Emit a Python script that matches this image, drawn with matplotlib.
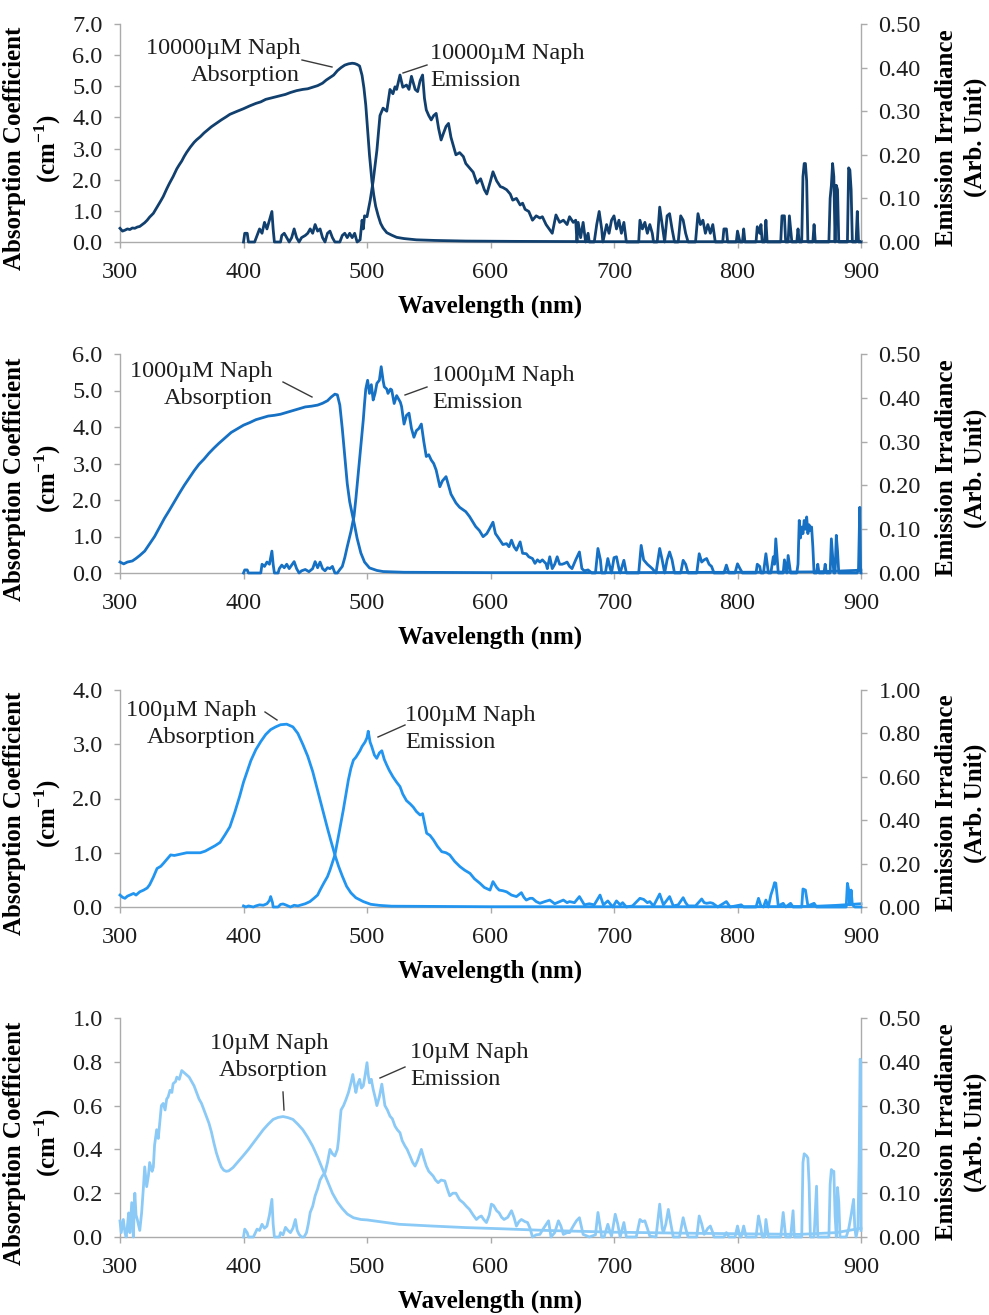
import matplotlib.pyplot as plt
from matplotlib.lines import Line2D
from matplotlib.ticker import FormatStrFormatter

plt.rcParams['font.family'] = ['Liberation Serif', 'DejaVu Serif']
plt.rcParams['mathtext.fontset'] = 'custom'
plt.rcParams['mathtext.rm'] = 'Liberation Serif'
plt.rcParams['mathtext.bf'] = 'Liberation Serif:bold'

# ---- data (wavelength nm, value) ----
# 10000 uM Naph
abs_10000 = [(300, 0.44), (302, 0.35), (304, 0.38), (306, 0.42), (308, 0.40), (310, 0.45), (312, 0.44),
             (314, 0.48), (316, 0.50), (318, 0.56), (320, 0.62), (322, 0.70), (324, 0.80), (327, 0.92),
             (330, 1.12), (333, 1.32), (335, 1.46), (338, 1.72), (340, 1.88), (343, 2.10), (346, 2.35),
             (348, 2.48), (350, 2.60), (352, 2.75), (354, 2.88), (357, 3.05), (360, 3.20), (362, 3.28),
             (365, 3.38), (368, 3.50), (371, 3.60), (374, 3.70), (378, 3.81), (382, 3.92), (386, 4.02),
             (389, 4.10), (392, 4.15), (395, 4.20), (400, 4.28), (405, 4.37), (410, 4.45), (414, 4.50),
             (418, 4.58), (422, 4.62), (426, 4.66), (430, 4.70), (434, 4.74), (438, 4.80), (443, 4.86),
             (448, 4.90), (452, 4.92), (456, 4.97), (460, 5.02), (464, 5.10), (467, 5.20), (470, 5.28),
             (473, 5.36), (476, 5.50), (479, 5.60), (482, 5.68), (485, 5.72), (488, 5.74), (490, 5.73),
             (492, 5.70), (494, 5.65), (496, 5.35), (497.5, 4.95), (499, 4.40), (500.5, 3.60), (502, 2.80),
             (504, 1.95), (505.5, 1.50), (507, 1.15), (509, 0.85), (511, 0.60), (513, 0.45), (516, 0.30),
             (520, 0.22), (524, 0.15), (530, 0.11), (540, 0.07), (555, 0.05), (580, 0.03), (620, 0.02),
             (700, 0.01), (800, 0.01), (900, 0.02)]
em_10000 = [(400, 0.0), (401, 0.02), (403, 0.02), (404, 0.0), (409, 0.0), (411, 0.015), (413, 0.03),
            (415, 0.02), (417, 0.045), (419, 0.03), (421, 0.05), (423, 0.07), (424, 0.03), (425, 0.0),
            (430, 0.0), (431, 0.015), (433, 0.02), (435, 0.01), (437, 0.0), (439, 0.01), (441, 0.03),
            (443, 0.01), (445, 0.0), (447, 0.01), (450, 0.015), (452, 0.02), (454, 0.03), (456, 0.02),
            (458, 0.04), (460, 0.025), (462, 0.03), (464, 0.01), (466, 0.0), (468, 0.02), (470, 0.025),
            (472, 0.01), (474, 0.0), (478, 0.0), (480, 0.015), (482, 0.02), (484, 0.01), (486, 0.02),
            (488, 0.01), (490, 0.02), (492, 0.0), (494.4, 0.005), (496, 0.05), (497, 0.03), (498, 0.06),
            (500, 0.058), (502.6, 0.096), (505, 0.14), (508, 0.21), (510.5, 0.29), (513, 0.307),
            (516, 0.30), (518.6, 0.35), (521, 0.34), (522.7, 0.356), (524, 0.35), (526.7, 0.383),
            (529, 0.355), (532, 0.36), (534, 0.35), (536, 0.38), (539, 0.35), (541, 0.345), (543, 0.37),
            (545, 0.383), (546.5, 0.33), (548, 0.303), (550, 0.29), (552, 0.28), (554, 0.29), (556, 0.295),
            (558, 0.26), (560, 0.234), (562, 0.25), (564, 0.265), (566, 0.272), (568, 0.24), (570, 0.22),
            (572, 0.20), (575, 0.205), (578, 0.196), (580, 0.18), (583, 0.17), (586, 0.16), (589, 0.135),
            (592, 0.145), (595, 0.12), (597, 0.11), (600, 0.14), (602, 0.161), (605, 0.14), (608, 0.127),
            (610, 0.125), (613, 0.12), (616, 0.11), (618, 0.096), (621, 0.10), (624, 0.085), (626, 0.089),
            (628, 0.075), (631, 0.07), (634, 0.05), (637, 0.06), (640, 0.055), (642, 0.058), (645, 0.04),
            (648, 0.028), (650, 0.02), (653, 0.062), (656, 0.045), (659, 0.05), (662, 0.04), (664, 0.058),
            (667, 0.045), (669, 0.05), (670, 0.0), (671, 0.045), (673, 0.01), (675, 0.045), (677, 0.0),
            (679, 0.02), (680, 0.0), (684, 0.0), (686, 0.04), (688, 0.07), (690, 0.03), (691, 0.0),
            (694, 0.04), (696, 0.02), (698, 0.05), (700, 0.06), (702, 0.03), (704, 0.05), (706, 0.02),
            (708, 0.045), (710, 0.0), (720, 0.0), (721, 0.05), (723, 0.03), (725, 0.045), (727, 0.02),
            (729, 0.04), (731, 0.02), (732, 0.0), (735, 0.0), (737, 0.08), (739, 0.04), (741, 0.0),
            (743, 0.06), (745, 0.065), (747, 0.03), (749, 0.0), (752, 0.0), (754, 0.06), (756, 0.05),
            (758, 0.02), (760, 0.0), (766, 0.0), (768, 0.065), (770, 0.04), (772, 0.05), (774, 0.02),
            (776, 0.04), (778, 0.02), (780, 0.04), (782, 0.0), (788, 0.0), (789, 0.03), (791, 0.03),
            (792, 0.0), (799, 0.0), (800, 0.025), (802, 0.0), (804, 0.0), (805, 0.03), (806, 0.0),
            (815, 0.0), (816, 0.035), (818, 0.02), (819, 0.04), (820, 0.0), (822, 0.0), (823, 0.05),
            (824, 0.0), (835, 0.0), (836, 0.06), (838, 0.06), (839, 0.0), (841, 0.0), (842, 0.06),
            (844, 0.0), (848, 0.0), (849, 0.03), (850, 0.0), (852, 0.0), (853, 0.15), (854, 0.18),
            (855, 0.18), (856, 0.14), (857, 0.0), (861, 0.0), (862, 0.04), (863, 0.0), (874, 0.0),
            (875, 0.10), (876, 0.13), (877, 0.18), (878, 0.15), (879, 0.0), (880, 0.13), (881, 0.12),
            (882, 0.0), (889, 0.0), (890, 0.17), (891, 0.165), (892, 0.12), (893, 0.0), (896, 0.0),
            (897, 0.07), (898, 0.0), (900, 0.0)]

# 1000 uM Naph
abs_1000 = [(300, 0.30), (303, 0.25), (306, 0.30), (310, 0.33), (313, 0.40), (316, 0.48), (320, 0.60),
            (324, 0.80), (328, 1.00), (332, 1.25), (336, 1.50), (340, 1.72), (344, 1.95), (348, 2.18),
            (352, 2.40), (356, 2.60), (360, 2.80), (364, 2.98), (368, 3.12), (372, 3.28), (376, 3.42),
            (380, 3.55), (385, 3.70), (390, 3.85), (395, 3.95), (400, 4.05), (405, 4.12), (410, 4.20),
            (415, 4.25), (420, 4.30), (425, 4.32), (430, 4.35), (435, 4.40), (440, 4.45), (445, 4.50),
            (450, 4.55), (455, 4.57), (460, 4.60), (464, 4.65), (468, 4.72), (471, 4.82), (474, 4.90),
            (476, 4.88), (478, 4.60), (480, 3.95), (482, 3.20), (484, 2.45), (486, 1.95), (488, 1.62),
            (490, 1.30), (492, 0.95), (495, 0.55), (498, 0.30), (502, 0.14), (508, 0.07), (513, 0.04),
            (530, 0.02), (600, 0.01), (700, 0.01), (800, 0.02), (860, 0.03), (880, 0.05), (895, 0.07),
            (900, 0.08)]
em_1000 = [(400, 0.0), (401, 0.007), (403, 0.007), (404, 0.0), (414, 0.0), (415, 0.02), (417, 0.015),
           (419, 0.025), (421, 0.02), (423, 0.05), (424, 0.02), (425, 0.0), (428, 0.0), (429, 0.01),
           (431, 0.018), (433, 0.012), (435, 0.02), (437, 0.01), (439, 0.018), (441, 0.026), (443, 0.01),
           (445, 0.0), (447, 0.005), (450, 0.008), (453, 0.003), (456, 0.01), (458, 0.026), (460, 0.012),
           (462, 0.025), (464, 0.01), (466, 0.005), (468, 0.012), (470, 0.01), (472, 0.015), (474, 0.0),
           (476, 0.0), (478, 0.008), (480, 0.015), (482, 0.035), (484, 0.06), (487, 0.095), (489.5, 0.13),
           (491, 0.17), (493, 0.23), (495, 0.29), (497, 0.35), (498, 0.387), (499, 0.42), (500.5, 0.44),
           (502, 0.41), (503.5, 0.43), (505, 0.395), (506.5, 0.41), (508, 0.433), (510, 0.44),
           (511.5, 0.471), (513, 0.44), (514, 0.425), (516, 0.42), (517, 0.41), (519, 0.42), (520, 0.418),
           (522, 0.387), (524, 0.405), (525, 0.40), (527, 0.39), (528, 0.38), (530, 0.34), (532, 0.36),
           (534, 0.365), (536, 0.33), (538, 0.31), (540, 0.325), (542, 0.33), (544, 0.34), (546, 0.30),
           (548, 0.266), (550, 0.27), (552, 0.258), (554, 0.25), (556, 0.235), (558, 0.21), (559, 0.197),
           (561, 0.21), (564, 0.22), (566, 0.20), (568, 0.18), (570, 0.17), (572, 0.16), (575, 0.15),
           (578, 0.144), (580, 0.14), (583, 0.129), (586, 0.115), (588, 0.106), (591, 0.097), (594, 0.083),
           (597, 0.09), (599, 0.10), (602, 0.116), (604, 0.09), (606, 0.082), (610, 0.065), (613, 0.067),
           (615, 0.06), (617, 0.075), (619, 0.06), (621, 0.052), (624, 0.071), (626, 0.045), (629, 0.044),
           (631, 0.037), (634, 0.033), (636, 0.022), (638, 0.03), (640, 0.025), (642, 0.03), (645, 0.021),
           (646, 0.01), (648, 0.037), (650, 0.01), (652, 0.02), (654, 0.037), (656, 0.02), (658, 0.02),
           (660, 0.022), (662, 0.025), (664, 0.015), (666, 0.01), (669, 0.03), (672, 0.048), (674, 0.01),
           (676, 0.005), (679, 0.007), (682, 0.0), (685, 0.0), (687, 0.056), (689, 0.03), (690, 0.0),
           (693, 0.0), (695, 0.033), (697, 0.01), (698, 0.0), (700, 0.035), (702, 0.037), (704, 0.01),
           (705, 0.0), (708, 0.029), (710, 0.0), (720, 0.0), (722, 0.063), (724, 0.03), (727, 0.02),
           (729, 0.015), (731, 0.01), (734, 0.0), (737, 0.056), (739, 0.03), (741, 0.0), (743, 0.03),
           (745, 0.048), (747, 0.03), (749, 0.0), (754, 0.0), (756, 0.029), (758, 0.02), (760, 0.0),
           (767, 0.0), (769, 0.044), (771, 0.025), (773, 0.03), (775, 0.033), (777, 0.02), (779, 0.015),
           (781, 0.0), (789, 0.0), (791, 0.018), (793, 0.0), (798, 0.0), (800, 0.021), (802, 0.01),
           (804, 0.0), (815, 0.0), (816, 0.02), (818, 0.015), (819, 0.0), (821, 0.0), (823, 0.044),
           (825, 0.0), (827, 0.0), (829, 0.037), (830, 0.02), (831, 0.078), (833, 0.0), (837, 0.0),
           (838, 0.03), (840, 0.0), (841, 0.04), (843, 0.0), (848, 0.0), (849, 0.02), (850, 0.12),
           (851, 0.08), (852, 0.105), (853, 0.09), (854, 0.12), (855, 0.10), (856, 0.128), (857, 0.09),
           (858, 0.11), (859, 0.097), (860, 0.105), (861, 0.06), (862, 0.0), (864, 0.0), (865, 0.02),
           (866, 0.0), (870, 0.0), (871, 0.02), (872, 0.0), (875, 0.0), (876, 0.078), (877, 0.04),
           (878, 0.0), (879, 0.0), (880, 0.086), (881, 0.05), (882, 0.0), (897, 0.0), (898, 0.01),
           (899, 0.15), (899.7, 0.0), (900, 0.0)]

# 100 uM Naph
abs_100 = [(300, 0.22), (302, 0.18), (304, 0.16), (306, 0.20), (308, 0.22), (311, 0.25), (313, 0.22),
           (316, 0.28), (319, 0.31), (322, 0.35), (324, 0.41), (327, 0.55), (330, 0.71), (333, 0.75),
           (335, 0.80), (338, 0.88), (341, 0.96), (344, 0.95), (346, 0.96), (350, 0.98), (354, 1.00),
           (358, 1.00), (362, 1.00), (365, 1.00), (369, 1.03), (373, 1.08), (377, 1.13), (381, 1.19),
           (385, 1.33), (389, 1.48), (393, 1.75), (397, 2.05), (400, 2.30), (403, 2.50), (406, 2.70),
           (410, 2.90), (414, 3.05), (418, 3.18), (422, 3.27), (426, 3.32), (430, 3.36), (435, 3.37),
           (440, 3.32), (444, 3.20), (448, 3.00), (452, 2.78), (456, 2.50), (460, 2.15), (464, 1.80),
           (468, 1.45), (471, 1.20), (474, 0.96), (477, 0.75), (480, 0.57), (483.5, 0.38), (487, 0.26),
           (491, 0.17), (497, 0.10), (503, 0.05), (510, 0.03), (520, 0.015), (600, 0.005), (800, 0.005),
           (860, 0.01), (880, 0.03), (900, 0.06)]
em_100 = [(400, 0.005), (402, 0.0), (404, 0.005), (408, 0.0), (410, 0.005), (413, 0.01), (416, 0.008),
          (419, 0.015), (421, 0.03), (422, 0.048), (423.5, 0.02), (424, 0.0), (428, 0.0), (430, 0.012),
          (432, 0.014), (434, 0.01), (436, 0.005), (438, 0.0), (441, 0.008), (444, 0.005), (447, 0.01),
          (450, 0.015), (453.8, 0.025), (457, 0.04), (460, 0.055), (462, 0.078), (465, 0.11), (468, 0.14),
          (470, 0.17), (474, 0.24), (477, 0.33), (480.8, 0.447), (483, 0.52), (484.9, 0.585), (487, 0.64),
          (489, 0.677), (491, 0.69), (494.3, 0.72), (496, 0.74), (498.4, 0.76), (500, 0.78), (501, 0.81),
          (502.5, 0.76), (503.8, 0.74), (506, 0.70), (507.9, 0.685), (510, 0.71), (512, 0.72), (514, 0.68),
          (516, 0.654), (518, 0.63), (521, 0.60), (524, 0.575), (526.7, 0.555), (529, 0.52), (532, 0.49),
          (535, 0.475), (537.5, 0.46), (540, 0.44), (543, 0.424), (545, 0.43), (548.3, 0.34), (551, 0.33),
          (553.7, 0.31), (557, 0.28), (560.5, 0.255), (564, 0.25), (567, 0.24), (571, 0.21),
          (575.3, 0.186), (579, 0.17), (583.4, 0.155), (587, 0.13), (591.5, 0.109), (595, 0.09),
          (599.6, 0.078), (602, 0.117), (605, 0.09), (607, 0.078), (610, 0.075), (613, 0.07),
          (617, 0.055), (621, 0.048), (625, 0.066), (627, 0.045), (629, 0.032), (632, 0.04), (634, 0.04),
          (637, 0.025), (640, 0.017), (644, 0.025), (648, 0.032), (652, 0.015), (656, 0.025),
          (659, 0.032), (662, 0.02), (664, 0.025), (668, 0.02), (672, 0.048), (676, 0.01), (680, 0.015),
          (684, 0.01), (688.7, 0.055), (691.4, 0.01), (695, 0.028), (699, 0.0), (702, 0.028), (705, 0.01),
          (707, 0.02), (710, 0.0), (715, 0.005), (721, 0.04), (724, 0.035), (727, 0.02), (729, 0.025),
          (732, 0.005), (737, 0.06), (740, 0.01), (742, 0.025), (745, 0.048), (748, 0.005), (752, 0.01),
          (756, 0.043), (758, 0.02), (760, 0.005), (766, 0.005), (771, 0.037), (773, 0.02), (775, 0.017),
          (778, 0.02), (780, 0.017), (784, 0.0), (791, 0.025), (794, 0.0), (803, 0.01), (805, 0.0),
          (815, 0.0), (817, 0.04), (819, 0.005), (821, 0.0), (823, 0.032), (825, 0.0), (827, 0.055),
          (829, 0.09), (830, 0.112), (831, 0.11), (833, 0.005), (837, 0.017), (839, 0.0), (843, 0.017),
          (845, 0.0), (852, 0.0), (853, 0.083), (855, 0.078), (857, 0.005), (862, 0.017), (864, 0.0),
          (888, 0.0), (889, 0.109), (890, 0.08), (891, 0.01), (892, 0.078), (893, 0.01), (895, 0.0),
          (900, 0.0)]

# 10 uM Naph
abs_10 = [(300, 0.073), (301, 0.02), (302.7, 0.08), (304, 0.02), (305, 0.0), (306, 0.05), (307, 0.11),
          (308, 0.02), (309.5, 0.157), (310.8, 0.0), (312, 0.20), (313, 0.10), (314, 0.08), (316, 0.03),
          (317.5, 0.11), (319, 0.23), (320, 0.32), (321.6, 0.23), (323, 0.28), (324, 0.34), (326, 0.30),
          (327, 0.32), (328, 0.42), (329.7, 0.49), (331, 0.45), (332, 0.51), (333.5, 0.60), (335, 0.61),
          (336.5, 0.58), (337.8, 0.63), (339, 0.64), (340.5, 0.67), (342, 0.66), (343, 0.70), (345, 0.71),
          (346, 0.73), (348, 0.72), (350, 0.76), (352, 0.75), (354, 0.74), (356, 0.73), (358, 0.71),
          (360, 0.69), (362, 0.66), (364, 0.63), (366, 0.61), (368, 0.58), (370, 0.55), (372, 0.52),
          (374, 0.48), (376, 0.43), (378, 0.385), (380, 0.35), (382, 0.32), (384, 0.305), (386, 0.30),
          (388, 0.302), (391.5, 0.317), (395, 0.34), (399.6, 0.37), (404, 0.40), (408, 0.43), (412, 0.46),
          (416, 0.49), (420, 0.515), (424, 0.537), (428, 0.546), (432, 0.55), (436, 0.545), (440, 0.537),
          (444, 0.515), (448, 0.49), (452, 0.455), (456, 0.415), (460, 0.365), (464, 0.31), (468, 0.255),
          (472, 0.20), (476, 0.16), (480, 0.13), (484, 0.105), (489, 0.088), (495, 0.08), (500, 0.078),
          (513, 0.068), (526, 0.058), (553, 0.05), (580, 0.043), (607, 0.038), (645, 0.03), (700, 0.022),
          (750, 0.018), (800, 0.015), (850, 0.012), (880, 0.02), (900, 0.04)]
em_10 = [(400, 0.0), (401, 0.018), (403, 0.01), (404, 0.0), (408, 0.0), (411, 0.018), (413, 0.015),
         (415, 0.029), (417, 0.02), (419, 0.025), (421, 0.05), (423, 0.086), (424, 0.03), (425, 0.0),
         (429, 0.0), (430, 0.01), (432, 0.005), (434, 0.022), (436, 0.015), (438, 0.01), (440, 0.02),
         (442, 0.04), (443.5, 0.015), (445, 0.006), (447, 0.0), (449, 0.0), (451, 0.01), (452.5, 0.03),
         (454, 0.056), (456, 0.07), (458, 0.094), (460, 0.11), (462, 0.13), (464, 0.14), (466, 0.147),
         (468, 0.17), (470, 0.20), (472, 0.19), (474, 0.185), (476, 0.20), (477, 0.223), (478, 0.26),
         (479, 0.29), (481, 0.30), (483, 0.314), (485, 0.33), (487, 0.352), (488.5, 0.371), (490, 0.345),
         (491, 0.33), (492.5, 0.35), (494, 0.36), (495.5, 0.34), (497, 0.345), (498.5, 0.37),
         (500, 0.398), (501, 0.37), (502, 0.352), (503.5, 0.36), (505, 0.337), (506.5, 0.32), (508, 0.30),
         (510, 0.32), (512, 0.349), (513, 0.33), (514.5, 0.30), (516.5, 0.29), (518.6, 0.276),
         (520.5, 0.27), (522.7, 0.253), (524.5, 0.245), (526.7, 0.238), (528.5, 0.22), (530.7, 0.208),
         (532.5, 0.20), (534.8, 0.185), (537, 0.17), (538.9, 0.162), (541, 0.175), (544, 0.20),
         (546, 0.18), (548, 0.162), (550, 0.15), (553.6, 0.139), (555.5, 0.13), (557.6, 0.124),
         (560, 0.13), (563, 0.128), (565, 0.11), (567, 0.094), (569.5, 0.10), (572, 0.10), (575, 0.085),
         (578, 0.078), (580.5, 0.07), (583, 0.063), (586, 0.05), (588.6, 0.04), (590.5, 0.045),
         (592.6, 0.048), (594.5, 0.04), (596.7, 0.033), (599, 0.05), (600.7, 0.075), (602.5, 0.072),
         (605, 0.06), (607, 0.055), (609, 0.045), (611, 0.04), (614, 0.045), (617, 0.06), (619, 0.045),
         (621, 0.025), (623, 0.035), (625, 0.04), (628, 0.035), (630, 0.033), (632, 0.02), (634, 0.0),
         (637, 0.005), (640, 0.006), (643, 0.02), (647, 0.037), (649, 0.0), (652, 0.01), (655, 0.037),
         (657, 0.025), (659, 0.006), (662, 0.01), (664, 0.01), (667, 0.025), (669.6, 0.037),
         (672, 0.044), (675, 0.006), (680, 0.0), (685, 0.005), (687, 0.056), (689, 0.02), (690, 0.0),
         (692, 0.0), (695, 0.029), (697, 0.01), (698, 0.002), (701, 0.052), (703, 0.03), (705, 0.0),
         (708, 0.033), (710, 0.0), (718, 0.0), (721, 0.04), (723, 0.035), (725, 0.037), (727, 0.02),
         (729, 0.002), (734, 0.0), (737, 0.075), (739, 0.02), (740, 0.01), (742, 0.03), (744, 0.063),
         (746, 0.03), (748, 0.0), (753, 0.0), (756, 0.044), (758, 0.02), (760, 0.0), (767, 0.0),
         (769, 0.048), (771, 0.03), (773, 0.006), (776, 0.02), (778, 0.025), (780, 0.01), (781, 0.0),
         (789, 0.0), (791, 0.01), (793, 0.0), (798, 0.0), (800, 0.025), (802, 0.0), (803, 0.0),
         (805, 0.025), (807, 0.0), (815, 0.0), (817, 0.048), (819, 0.02), (820, 0.0), (822, 0.0),
         (823, 0.04), (825, 0.0), (835, 0.0), (837, 0.056), (839, 0.0), (843, 0.0), (845, 0.06),
         (846, 0.0), (852, 0.0), (853, 0.17), (854, 0.19), (856, 0.185), (857, 0.18), (858, 0.12),
         (859, 0.0), (862, 0.0), (864, 0.116), (865, 0.0), (874, 0.0), (875, 0.12), (876, 0.154),
         (877, 0.15), (878, 0.15), (879, 0.05), (880, 0.0), (881, 0.113), (882, 0.08), (883, 0.0),
         (888, 0.0), (890, 0.018), (892, 0.05), (894, 0.086), (895, 0.02), (896, 0.0), (897.5, 0.02),
         (898.5, 0.177), (899.3, 0.406), (899.8, 0.40), (900, 0.015)]

concentrations = ['10000', '1000', '100', '10']
colors = ['#113F6E', '#1670C3', '#2295F0', '#8BCAF6']
left_ticks = [[0, 1, 2, 3, 4, 5, 6, 7], [0, 1, 2, 3, 4, 5, 6], [0, 1, 2, 3, 4],
              [0, 0.2, 0.4, 0.6, 0.8, 1.0]]
right_ticks = [[0, 0.1, 0.2, 0.3, 0.4, 0.5], [0, 0.1, 0.2, 0.3, 0.4, 0.5],
               [0, 0.2, 0.4, 0.6, 0.8, 1.0], [0, 0.1, 0.2, 0.3, 0.4, 0.5]]
wl_ticks = [300, 400, 500, 600, 700, 800, 900]

# ---- layout (pixels from top-left of the 989x1315 canvas) ----
W, H = 989, 1315
ax_left, ax_right = 120, 861
ax_tops = [24, 354, 690, 1018]
ax_bots = [242, 573, 907, 1237]
# label anchors: (abs text right x, center y, leader line), (em text left x, center y, leader line)
abs_notes = [(300, 62, ((302, 60), (332, 67))), (273, 385, ((283, 382), (312, 397))),
             (256, 724, ((265, 712), (277, 720))), (328, 1057, ((283, 1092), (284, 1110)))]
em_notes = [(430, 67, ((427, 65), (403, 73))), (432, 389, ((427, 387), (405, 395))),
            (405, 729, ((405, 725), (378, 737))), (410, 1066, ((405, 1067), (380, 1078)))]

spine_col = '#ABABAB'
txt_col = '#1E1E1E'
fs = 17.5
lab_fs = 18

fig = plt.figure(figsize=(W / 100, H / 100), dpi=100)


def fx(px):
    return px / W


def fy(py):
    return 1 - py / H


all_abs = [abs_10000, abs_1000, abs_100, abs_10]
all_em = [em_10000, em_1000, em_100, em_10]

for i in range(4):
    top, bot = ax_tops[i], ax_bots[i]
    ax = fig.add_axes([fx(ax_left), fy(bot), (ax_right - ax_left) / W, (bot - top) / H])
    ax2 = ax.twinx()
    c = colors[i]

    wl, val = zip(*all_abs[i])
    ax.plot(wl, val, color=c, lw=2.0, clip_on=False, zorder=3)
    wl, val = zip(*all_em[i])
    ax2.plot(wl, val, color=c, lw=2.0, clip_on=False, zorder=3)

    ax.set_xlim(300, 900)
    ax.set_xticks(wl_ticks)
    ax.set_ylim(0, left_ticks[i][-1])
    ax.set_yticks(left_ticks[i])
    ax2.set_ylim(0, right_ticks[i][-1])
    ax2.set_yticks(right_ticks[i])
    ax.yaxis.set_major_formatter(FormatStrFormatter('%.1f'))
    ax2.yaxis.set_major_formatter(FormatStrFormatter('%.2f'))

    for a in (ax, ax2):
        for s in a.spines.values():
            s.set_color(spine_col)
            s.set_linewidth(1.0)
        a.spines['top'].set_visible(False)
    ax.spines['right'].set_visible(False)
    ax2.spines['left'].set_visible(False)
    ax2.spines['bottom'].set_visible(False)

    ax.tick_params(axis='both', direction='out', length=4.5, width=1, color=spine_col,
                   labelsize=fs, labelcolor=txt_col)
    ax.tick_params(axis='x', pad=10)
    ax.tick_params(axis='y', pad=8)
    ax2.tick_params(axis='y', direction='out', length=4.5, width=1, color=spine_col,
                    labelsize=fs, labelcolor=txt_col, pad=8)

    h = bot - top
    ax.set_xlabel('Wavelength (nm)', fontsize=lab_fs, fontweight='bold')
    ax.xaxis.set_label_coords(0.5, -53 / h)
    ax.set_ylabel('Absorption Coefficient\n(cm$^{\\mathbf{-1}}$)', fontsize=lab_fs,
                  fontweight='bold', linespacing=1.3)
    ax.yaxis.set_label_coords((63 - ax_left) / (ax_right - ax_left), 0.43)
    ax2.set_ylabel('Emission Irradiance\n(Arb. Unit)', fontsize=lab_fs, fontweight='bold',
                   linespacing=1.3)
    ax2.yaxis.set_label_coords((935 - ax_left) / (ax_right - ax_left), 0.48)

    name = concentrations[i] + '\u00b5M Naph'
    xr, yc, seg = abs_notes[i]
    fig.text(fx(xr), fy(yc), name + '\nAbsorption', ha='right', va='center', fontsize=fs,
             color=txt_col, linespacing=1.42)
    fig.add_artist(Line2D([fx(seg[0][0]), fx(seg[1][0])], [fy(seg[0][1]), fy(seg[1][1])],
                          color='#3A3A3A', lw=1.0))
    xl, yc, seg = em_notes[i]
    fig.text(fx(xl), fy(yc), name + '\nEmission', ha='left', va='center', fontsize=fs,
             color=txt_col, linespacing=1.42)
    fig.add_artist(Line2D([fx(seg[0][0]), fx(seg[1][0])], [fy(seg[0][1]), fy(seg[1][1])],
                          color='#3A3A3A', lw=1.0))

fig.savefig('out.png', dpi=100)
